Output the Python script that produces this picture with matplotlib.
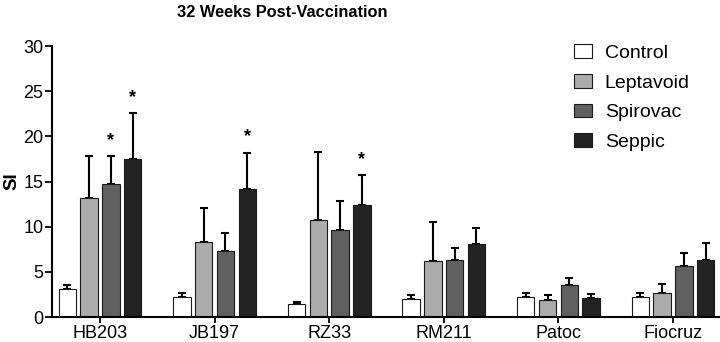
import numpy as np
import matplotlib.pyplot as plt

plt.rcParams['font.family'] = ['Liberation Sans', 'DejaVu Sans']

strains = ['HB203', 'JB197', 'RZ33', 'RM211', 'Patoc', 'Fiocruz']
groups = ['Control', 'Leptavoid', 'Spirovac', 'Seppic']

control = [3.1, 2.2, 1.4, 2.0, 2.2, 2.2]
control_err = [0.45, 0.5, 0.3, 0.4, 0.45, 0.5]
leptavoid = [13.2, 8.35, 10.75, 6.2, 1.85, 2.65]
leptavoid_err = [4.6, 3.7, 7.55, 4.35, 0.6, 1.0]
spirovac = [14.75, 7.35, 9.6, 6.3, 3.55, 5.6]
spirovac_err = [3.05, 2.0, 3.3, 1.4, 0.75, 1.45]
seppic = [17.5, 14.15, 12.45, 8.05, 2.15, 6.35]
seppic_err = [5.1, 4.05, 3.25, 1.85, 0.35, 1.9]

# (strain index, group index) marked as significant
stars = [(0, 2), (0, 3), (1, 3), (2, 3)]

means = [control, leptavoid, spirovac, seppic]
errs = [control_err, leptavoid_err, spirovac_err, seppic_err]
colors = ['white', '#ababab', '#606060', '#232323']

fig = plt.figure(figsize=(7.2, 3.42), dpi=100)
ax = fig.add_axes([0.072, 0.073, 0.928, 0.792])

x = np.arange(len(strains))
step = 0.19
width = 0.152
for i, g in enumerate(groups):
    pos = x + (i - 1.5) * step
    ax.bar(pos, means[i], width, color=colors[i], edgecolor='#1a1a1a',
           linewidth=0.8, label=g, zorder=2)
    ax.errorbar(pos, means[i], yerr=[np.zeros(len(strains)), errs[i]],
                fmt='none', ecolor='black', elinewidth=1.5, capsize=3,
                capthick=1.5, zorder=1)

for s, g in stars:
    xp = x[s] + (g - 1.5) * step
    top = means[g][s] + errs[g][s]
    ax.text(xp, top + 0.8, '*', ha='center', va='bottom',
            fontsize=13, fontweight='bold')

ax.set_xlim(-0.42, 5.41)
ax.set_ylim(0, 30)
ax.set_yticks([0, 5, 10, 15, 20, 25, 30])
ax.set_xticks(x)
ax.set_xticklabels(strains)
ax.tick_params(axis='both', labelsize=13, width=1.3, direction='out')
ax.tick_params(axis='y', length=5, pad=1)
ax.tick_params(axis='x', length=4, pad=2)
for sp in ['top', 'right']:
    ax.spines[sp].set_visible(False)
for sp in ['left', 'bottom']:
    ax.spines[sp].set_linewidth(1.5)

ax.set_ylabel('SI', fontsize=13.5, fontweight='bold', labelpad=2)
fig.text(0.392, 0.962, '32 Weeks Post-Vaccination', ha='center', va='center',
         fontsize=11.8, fontweight='bold')

ax.legend(loc='upper left', bbox_to_anchor=(0.786, 0.893),
          bbox_transform=fig.transFigure, frameon=False,
          fontsize=14, handlelength=0.95, handleheight=0.7,
          labelspacing=0.62, handletextpad=0.65, borderaxespad=0)

fig.savefig('out.png', dpi=100)
